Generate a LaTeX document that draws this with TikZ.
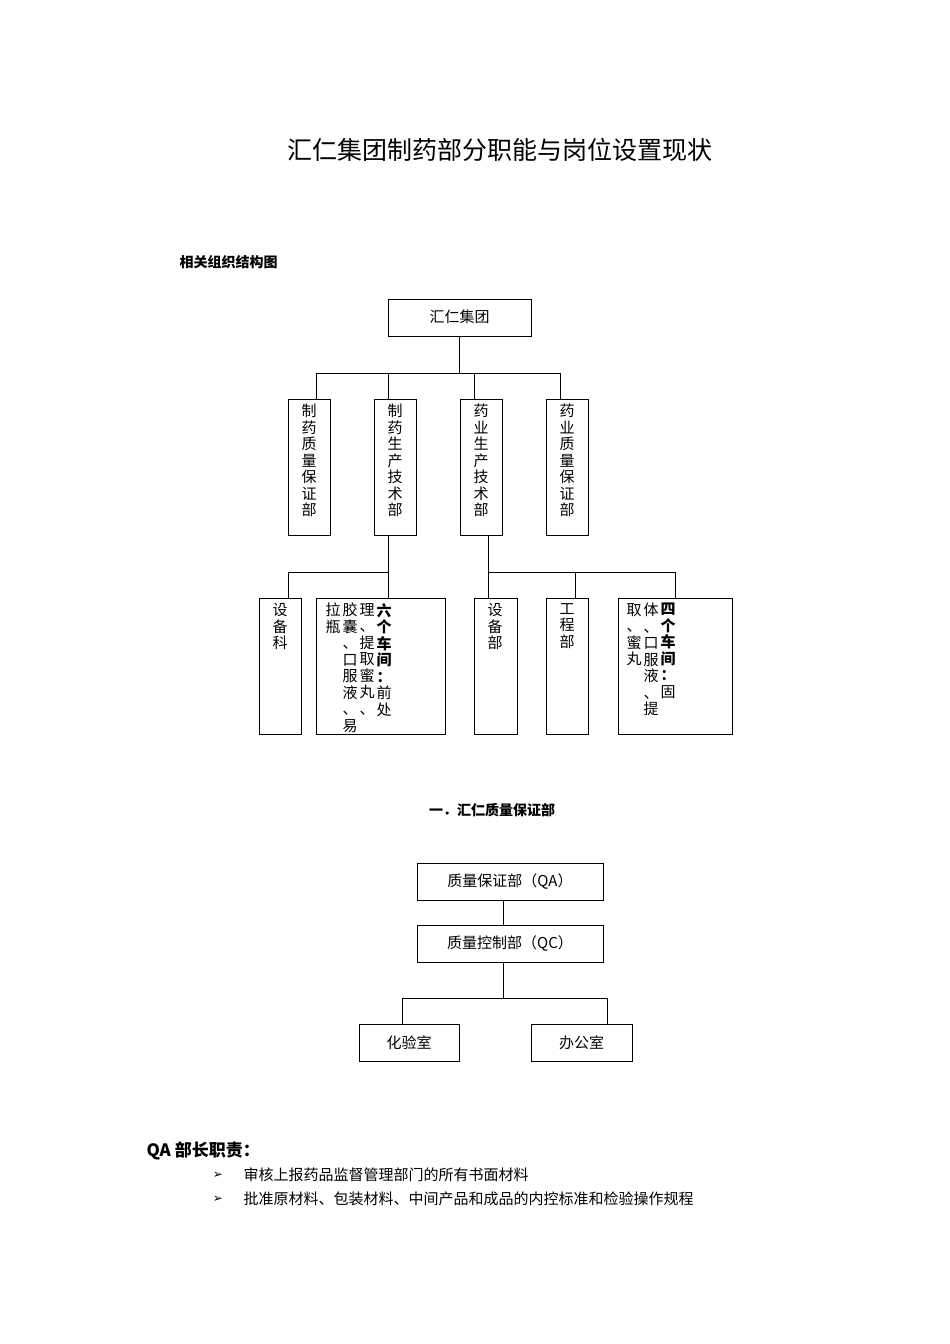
\documentclass[tikz,border=0pt]{standalone}
\usepackage{fontspec}
\setmainfont{Noto Sans CJK SC}
\newfontfamily\symfont{DejaVu Sans}
\tikzset{
  unitbox/.style={draw,line width=0.8pt,inner sep=0pt},
  vtext/.style={anchor=north,align=center,font=\fontsize{15}{16.5}\selectfont,inner sep=0pt},
  link/.style={line width=0.8pt}
}
\newcommand{\bd}[1]{{\bfseries #1}}
\begin{document}
\begin{tikzpicture}[x=1pt,y=-1pt]
\useasboundingbox (0,0) rectangle (950,1344);

% title
\node (title) at (500,150) {\fontsize{25}{28}\selectfont 汇仁集团制药部分职能与岗位设置现状};
\node[anchor=west] (sub) at (176,262) {\fontsize{14}{16}\selectfont\bfseries 相关组织结构图};

% top
\draw[unitbox] (388,299) rectangle (531,336);
\node (group) at (459.5,317) {\fontsize{15}{17}\selectfont 汇仁集团};
\draw[link] (459,336) -- (459,373);
\draw[link] (316,373) -- (560,373);
\foreach \x in {316,388,474,560} \draw[link] (\x,373) -- (\x,399);

% second level
\foreach \l/\r/\t in {288/330/{制\\药\\质\\量\\保\\证\\部},374/416/{制\\药\\生\\产\\技\\术\\部},460/502/{药\\业\\生\\产\\技\\术\\部},546/588/{药\\业\\质\\量\\保\\证\\部}}{
  \draw[unitbox] (\l,399) rectangle (\r,535);
  \node[vtext] at ({(\l+\r)/2},404) {\t};
}

% third level, left
\draw[link] (388,535) -- (388,572);
\draw[link] (288,572) -- (388,572);
\draw[link] (288,572) -- (288,598);
\draw[link] (388,572) -- (388,598);
\draw[unitbox] (259,598) rectangle (301,734);
\node[vtext] (sbk) at (280,603) {设\\备\\科};
\draw[unitbox] (316,598) rectangle (445,734);
\node[vtext] (six1) at (384,603) {\bd{六}\\\bd{个}\\\bd{车}\\\bd{间}\\\bd{：}\\前\\处};
\node[vtext] (six2) at (367,603) {理\\、\\提\\取\\蜜\\丸\\、};
\node[vtext] (six3) at (350,603) {胶\\囊\\、\\口\\服\\液\\、\\易};
\node[vtext] (six4) at (333,603) {拉\\瓶};

% third level, right
\draw[link] (488,535) -- (488,572);
\draw[link] (488,572) -- (675,572);
\foreach \x in {488,575,675} \draw[link] (\x,572) -- (\x,598);
\draw[unitbox] (474,598) rectangle (517,734);
\node[vtext] (sbb) at (495,603) {设\\备\\部};
\draw[unitbox] (546,598) rectangle (588,734);
\node[vtext] (gcb) at (567,603) {工\\程\\部};
\draw[unitbox] (618,598) rectangle (732,734);
\node[vtext] (four1) at (668,603) {\bd{四}\\\bd{个}\\\bd{车}\\\bd{间}\\\bd{：}\\固};
\node[vtext] (four2) at (651,603) {体\\、\\口\\服\\液\\、\\提};
\node[vtext] (four3) at (634,603) {取\\、\\蜜\\丸};

% section one
\node (sec) at (492,810) {\fontsize{14}{16}\selectfont\bfseries 一．汇仁质量保证部};
\node[unitbox,minimum width=186,minimum height=37] (qa) at (510,881.5) {\fontsize{15}{17}\selectfont 质量保证部（QA）};
\node[unitbox,minimum width=186,minimum height=37] (qc) at (510,943.5) {\fontsize{15}{17}\selectfont 质量控制部（QC）};
\draw[link] (503,900) -- (503,925);
\draw[link] (503,962) -- (503,998);
\draw[link] (402,998) -- (607,998);
\draw[link] (402,998) -- (402,1024);
\draw[link] (607,998) -- (607,1024);
\node[unitbox,minimum width=100,minimum height=37] (lab) at (409,1042.5) {\fontsize{15}{17}\selectfont 化验室};
\node[unitbox,minimum width=101,minimum height=37] (office) at (581.5,1042.5) {\fontsize{15}{17}\selectfont 办公室};

% duties
\node[anchor=west] (duty) at (143,1151) {\fontsize{17}{20}\selectfont\bfseries QA 部长职责：};
\node (b1) at (218,1175) {\symfont\fontsize{12}{14}\selectfont ➢};
\node[anchor=west] (t1) at (240,1175) {\fontsize{15}{17}\selectfont 审核上报药品监督管理部门的所有书面材料};
\node (b2) at (218,1199) {\symfont\fontsize{12}{14}\selectfont ➢};
\node[anchor=west] (t2) at (240,1199) {\fontsize{15}{17}\selectfont 批准原材料、包装材料、中间产品和成品的内控标准和检验操作规程};
\end{tikzpicture}
\end{document}
